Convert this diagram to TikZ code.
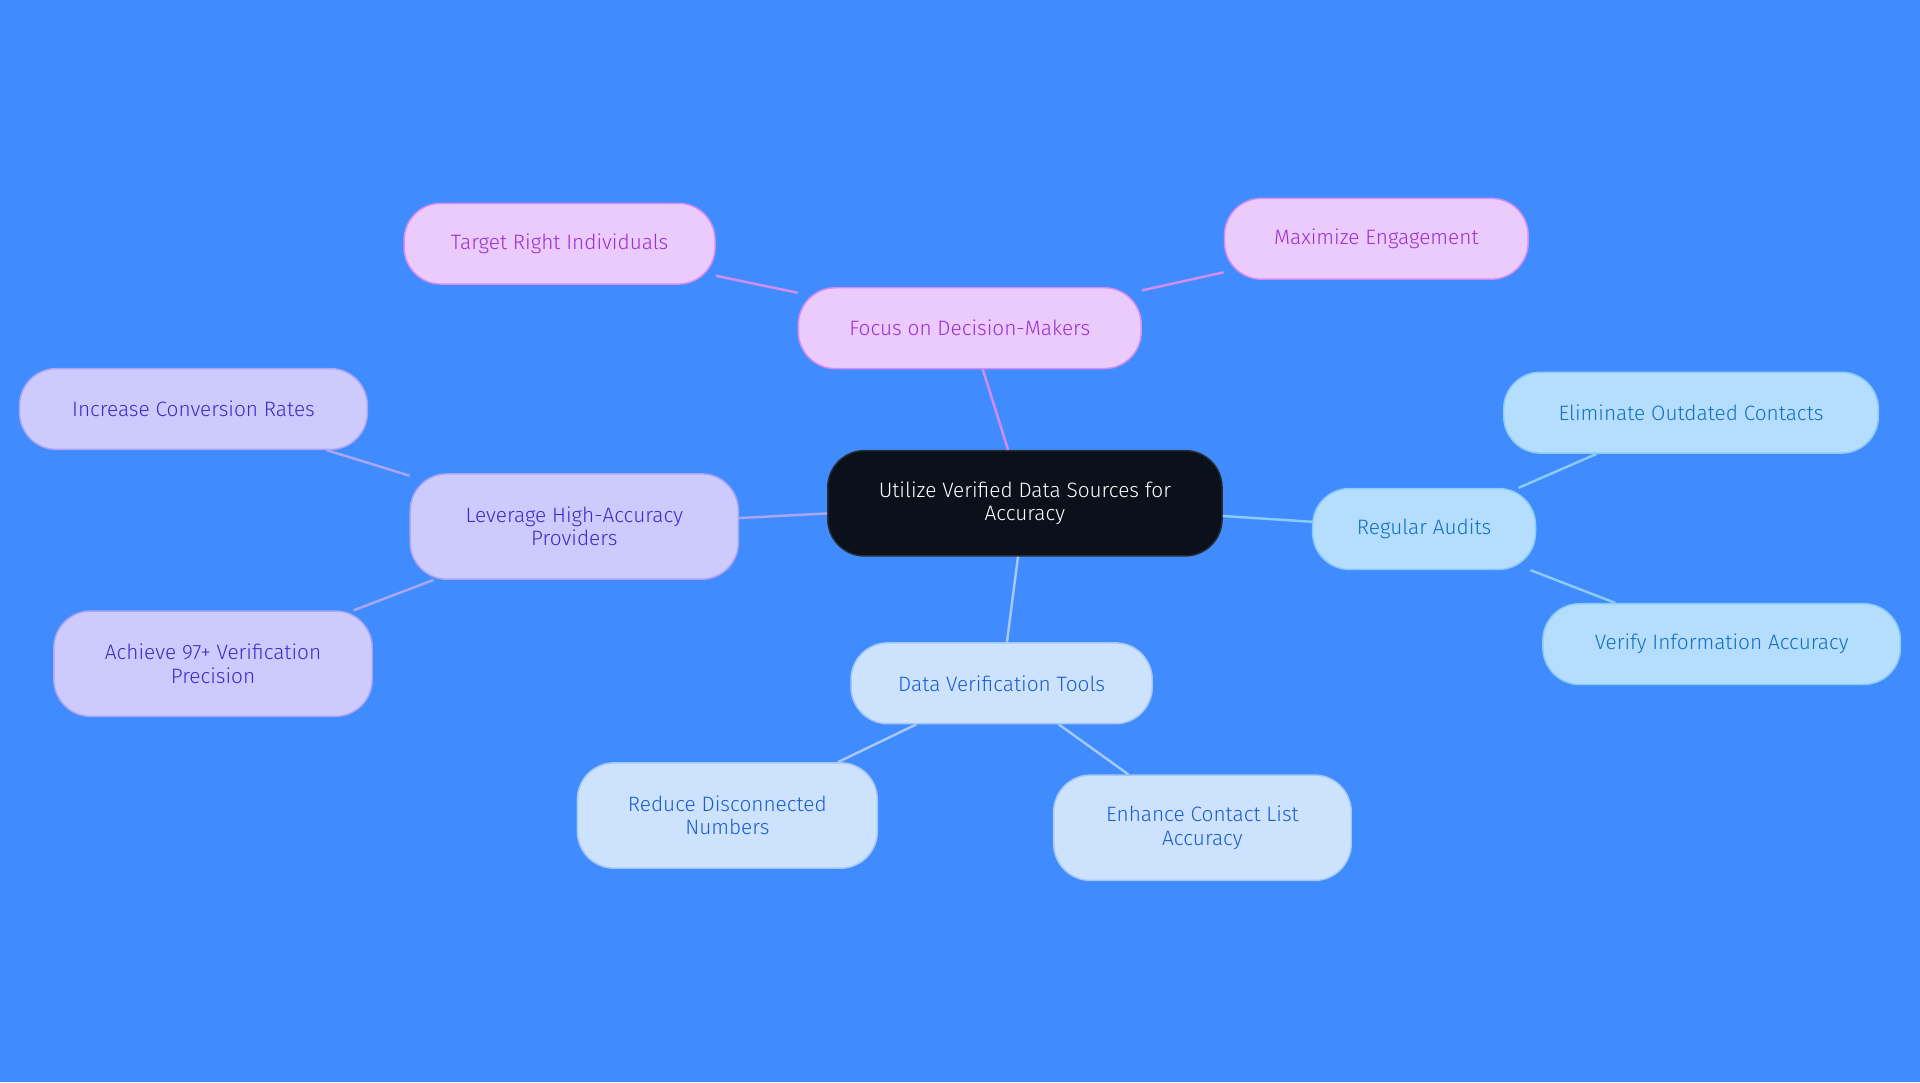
\documentclass[tikz,border=0pt]{standalone}
\usepackage{fontspec}
\setmainfont{Fira Sans}[UprightFont=*-Light]
\begin{document}
\begin{tikzpicture}[x=1pt,y=-1pt,
 every node/.style={font=\fontsize{17}{19}\selectfont, align=center, rounded corners=30pt, draw, line width=1.2pt, inner sep=0pt},
 pur/.style={fill=pf, draw=pb, text=pt},
 vio/.style={fill=vf, draw=vb, text=vt},
 sky/.style={fill=sf, draw=sb, text=st},
 blu/.style={fill=bf, draw=bb, text=bt},
 ed/.style={line width=2pt}]
\definecolor{bg}{HTML}{408CFF}
\definecolor{pf}{HTML}{EACBFB}\definecolor{pb}{HTML}{D28CF2}\definecolor{pt}{HTML}{9B30D0}
\definecolor{vf}{HTML}{CDCBFD}\definecolor{vb}{HTML}{ACA6F2}\definecolor{vt}{HTML}{3A2DC4}
\definecolor{sf}{HTML}{B4DDFE}\definecolor{sb}{HTML}{8CCBF6}\definecolor{st}{HTML}{1570BE}
\definecolor{bf}{HTML}{CDE2FC}\definecolor{bb}{HTML}{A5C8F4}\definecolor{bt}{HTML}{1B5DCF}
\fill[bg] (0,0) rectangle (1568,884);
\useasboundingbox (0,0) rectangle (1568,884);
\node[fill=black!90!blue!60!black, fill={rgb,255:red,11;green,17;blue,26}, draw={rgb,255:red,40;green,44;blue,52}, text=white, minimum width=322pt, minimum height=86pt] (c) at (837,411) {Utilize Verified Data Sources for\\Accuracy};
\node[pur, minimum width=280pt, minimum height=66pt] (f) at (792,268) {Focus on Decision-Makers};
\node[pur, minimum width=254pt, minimum height=66pt] (f1) at (457,199) {Target Right Individuals};
\node[pur, minimum width=248pt, minimum height=66pt] (f2) at (1124,195) {Maximize Engagement};
\node[vio, minimum width=268pt, minimum height=86pt] (l) at (469,430) {Leverage High-Accuracy\\Providers};
\node[vio, minimum width=284pt, minimum height=66pt] (l1) at (158,334) {Increase Conversion Rates};
\node[vio, minimum width=260pt, minimum height=86pt] (l2) at (174,542) {Achieve 97+ Verification\\Precision};
\node[sky, minimum width=182pt, minimum height=66pt] (r) at (1163,432) {Regular Audits};
\node[sky, minimum width=306pt, minimum height=66pt] (r1) at (1381,337) {Eliminate Outdated Contacts};
\node[sky, minimum width=292pt, minimum height=66pt] (r2) at (1406,526) {Verify Information Accuracy};
\node[blu, minimum width=246pt, minimum height=66pt] (d) at (818,558) {Data Verification Tools};
\node[blu, minimum width=245pt, minimum height=86pt] (d1) at (594,666) {Reduce Disconnected\\Numbers};
\node[blu, minimum width=243pt, minimum height=86pt] (d2) at (982,676) {Enhance Contact List\\Accuracy};
\begin{scope}[on background layer/.style={}]
\end{scope}
\draw[ed, pb] (c) -- (f); \draw[ed,pb] (f) -- (f1); \draw[ed,pb] (f) -- (f2);
\draw[ed, vb] (c) -- (l); \draw[ed,vb] (l) -- (l1); \draw[ed,vb] (l) -- (l2);
\draw[ed, sb] (c) -- (r); \draw[ed,sb] (r) -- (r1); \draw[ed,sb] (r) -- (r2);
\draw[ed, bb] (c) -- (d); \draw[ed,bb] (d) -- (d1); \draw[ed,bb] (d) -- (d2);
\end{tikzpicture}
\end{document}
